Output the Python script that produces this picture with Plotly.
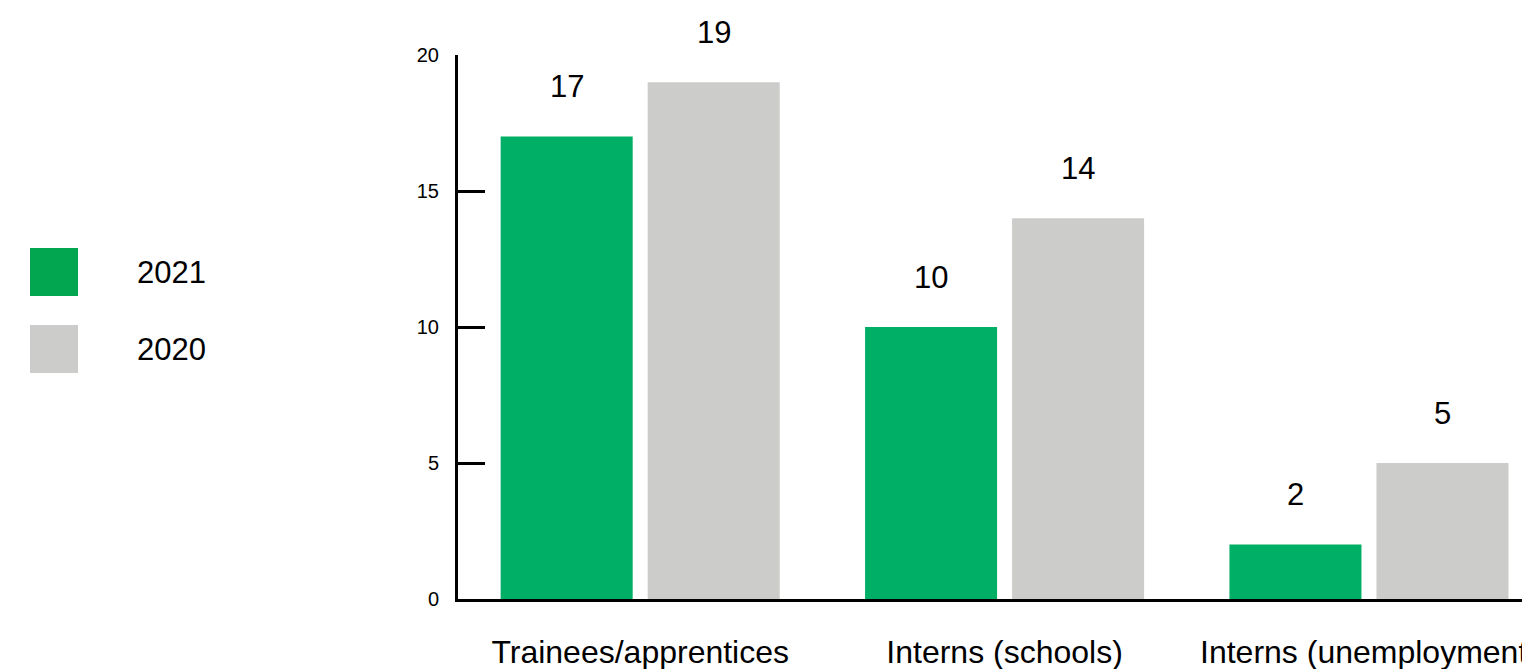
import plotly.graph_objects as go

categories = ["Trainees/apprentices", "Interns (schools)", "Interns (unemployment)"]
values_2021 = [17, 10, 2]
values_2020 = [19, 14, 5]
series_names = ["2021", "2020"]
y_ticks = [0, 5, 10, 15, 20]

W, H = 1522, 669
ML, MR, MT, MB = 458, 0, 55, 70
PW, PH = W - ML - MR, H - MT - MB

GREEN = "#00AF66"
GREEN_LEG = "#02A651"
GRAY = "#CCCCCA"
FONT = "Liberation Sans, Arial, sans-serif"

fig = go.Figure()
fig.add_trace(go.Bar(x=categories, y=values_2021, name=series_names[0],
                     marker=dict(color=GREEN, line=dict(width=0)), showlegend=False))
fig.add_trace(go.Bar(x=categories, y=values_2020, name=series_names[1],
                     marker=dict(color=GRAY, line=dict(width=0)), showlegend=False))

annotations = []
for vals, shift in ((values_2021, -73.5), (values_2020, 73.5)):
    for c, v in zip(categories, vals):
        annotations.append(dict(x=c, y=v, xref="x", yref="y", text=str(v),
                                showarrow=False, xshift=shift, yshift=50,
                                yanchor="middle", xanchor="center",
                                font=dict(size=31, color="#000000", family=FONT)))

# custom legend
def px_to_paper_x(px):
    return (px - ML) / PW

def px_to_paper_y(py):
    return (MT + PH - py) / PH

shapes = []
leg_items = [(series_names[0], GREEN_LEG, 272), (series_names[1], GRAY, 349)]
for name, col, cy in leg_items:
    shapes.append(dict(type="rect", xref="paper", yref="paper",
                       x0=px_to_paper_x(30), x1=px_to_paper_x(78),
                       y0=px_to_paper_y(cy + 24), y1=px_to_paper_y(cy - 24),
                       fillcolor=col, line=dict(width=0), layer="above"))
    annotations.append(dict(x=px_to_paper_x(135), y=px_to_paper_y(cy), xref="paper", yref="paper",
                            text=name, showarrow=False, xanchor="left", yanchor="middle",
                            font=dict(size=31, color="#000000", family=FONT)))

fig.update_layout(
    template="none",
    width=W, height=H,
    margin=dict(l=ML, r=MR, t=MT, b=MB, pad=0),
    paper_bgcolor="white", plot_bgcolor="white",
    barmode="group", bargap=0.193, bargroupgap=0.102,
    showlegend=False,
    font=dict(family=FONT, color="#000000"),
    annotations=annotations, shapes=shapes,
    xaxis=dict(range=[-0.5, 2.42], showgrid=False, zeroline=False, automargin=False,
               showline=True, linecolor="#000000", linewidth=3,
               ticks="", tickangle=0, ticklabelstandoff=23,
               tickfont=dict(size=32, family=FONT, color="#000000")),
    yaxis=dict(range=[0, 20], tickvals=y_ticks, showgrid=False, zeroline=False, automargin=False,
               showline=True, linecolor="#000000", linewidth=3,
               ticks="inside", ticklen=27, tickwidth=3, tickcolor="#000000",
               ticklabelstandoff=12,
               tickfont=dict(size=20, family=FONT, color="#000000")),
)

fig.write_html("out.html")
